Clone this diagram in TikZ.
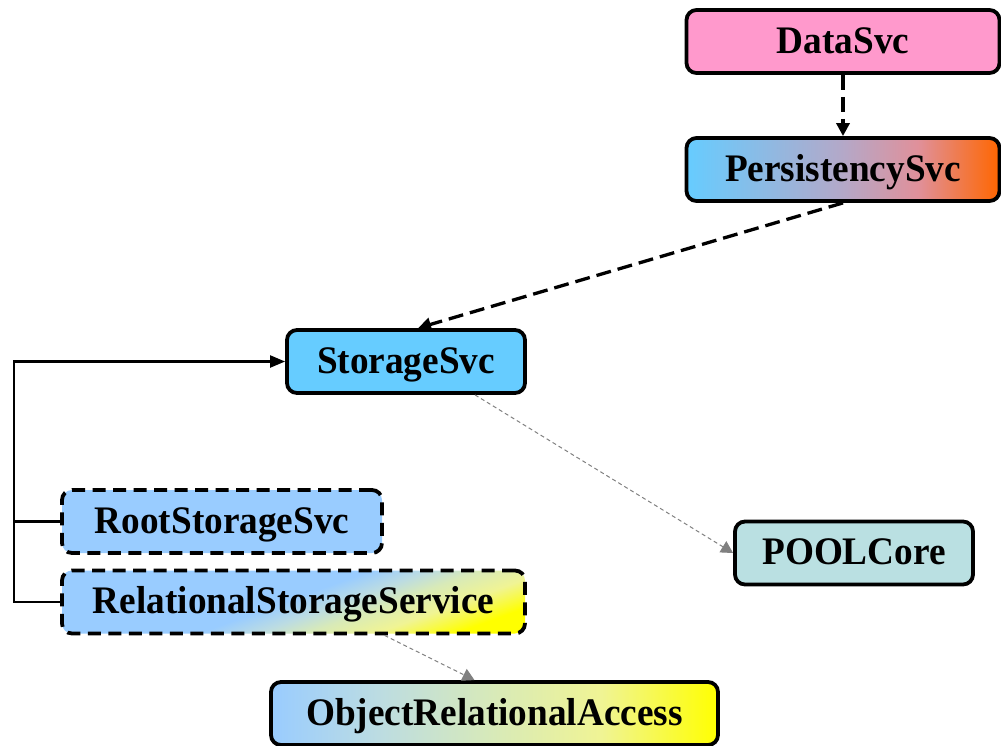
\documentclass[tikz,border=0pt]{standalone}
\usepackage{fontspec}
\newfontfamily\boxfont{Liberation Serif}[FakeStretch=0.955]
\usepackage{tikz}
\usetikzlibrary{positioning, arrows.meta, calc}
\definecolor{svcpink}{HTML}{FF99CC}
\definecolor{svcblue}{HTML}{66CCFF}
\definecolor{svclight}{HTML}{99CCFF}
\definecolor{svcorange}{HTML}{FF6600}
\definecolor{svcyellow}{HTML}{FFFF00}
\definecolor{svccyan}{HTML}{BAE0E2}
\definecolor{persmid}{HTML}{B4A8C8}
\definecolor{perspink}{HTML}{E0909A}
\definecolor{oramid}{HTML}{D8EAB8}
\definecolor{oralow}{HTML}{BCDCE2}
\definecolor{orahigh}{HTML}{F0F494}

% colour ramps, the middle 25bp--75bp covers the box
\pgfdeclarehorizontalshading{persshade}{100bp}{color(0bp)=(svcblue);
  color(25bp)=(svcblue); color(50bp)=(persmid); color(62bp)=(perspink);
  color(75bp)=(svcorange); color(100bp)=(svcorange)}
\pgfdeclarehorizontalshading{orashade}{100bp}{color(0bp)=(svclight);
  color(25bp)=(svclight); color(37bp)=(oralow); color(50bp)=(oramid);
  color(62bp)=(orahigh); color(75bp)=(svcyellow); color(100bp)=(svcyellow)}
\pgfdeclarehorizontalshading{relshade}{100bp}{color(0bp)=(svclight);
  color(25bp)=(svclight); color(49bp)=(svclight); color(55bp)=(oralow);
  color(60bp)=(oramid); color(67bp)=(orahigh); color(75bp)=(svcyellow);
  color(100bp)=(svcyellow)}

\tikzset{
  svc/.style={draw, line width=3.8pt, rounded corners=10pt, minimum height=63pt,
    inner sep=0pt, text height=27pt, text depth=4pt,
    font=\boxfont\bfseries\fontsize{39}{39}\selectfont},
  optsvc/.style={svc, dash pattern=on 13pt off 7.5pt},
  uses/.style={line width=3.3pt, dash pattern=on 15pt off 7pt,
    -{Triangle[length=13pt,width=13pt]}},
  inherits/.style={line width=2.2pt, -{Triangle[length=15pt,width=12pt]}},
  links/.style={gray, line width=1pt, dash pattern=on 4pt off 3pt,
    -{Triangle[length=12pt,width=13pt]}}
}

\begin{document}
\begin{tikzpicture}[x=1pt, y=-1pt]
  \useasboundingbox (0,0) rectangle (1001,745);

  % services
  \node[svc, fill=svcpink, minimum width=313pt] (data) at (843,41.5) {DataSvc};
  \node[svc, shading=persshade, minimum width=313pt]
    (pers) at (843,169.5) {PersistencySvc};
  \node[svc, fill=svcblue, minimum width=238pt] (stor) at (406,361.5) {StorageSvc};
  \node[optsvc, fill=svclight, minimum width=320pt] (root) at (222,521.5) {RootStorageSvc};
  \node[optsvc, shading=relshade, shading angle=-70,
    minimum width=463pt] (rel) at (293.5,602) {RelationalStorageService};
  \node[svc, fill=svccyan, minimum width=238pt] (pool) at (854,553) {POOLCore};
  \node[svc, shading=orashade, minimum width=447pt]
    (ora) at (494.5,713.5) {ObjectRelationalAccess};

  % connectors
  \draw[uses] (data.south) -- (pers.north);
  \draw[uses] (pers.south) -- ([xshift=12pt]stor.north);
  \draw[links] ([xshift=69pt]stor.south) -- (pool.west);
  \draw[links] ([xshift=91pt]rel.south) -- ([xshift=-20pt]ora.north);

  \coordinate (bus) at (14,602);
  \draw[inherits] (rel.west) -- (bus) |- (stor.west);
  \draw[line width=2.2pt] (root.west) -- (root.west -| bus);
\end{tikzpicture}
\end{document}
